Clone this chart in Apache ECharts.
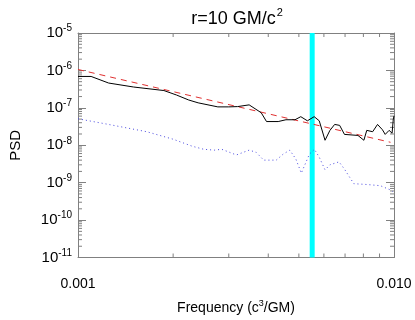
<!DOCTYPE html>
<html>
<head>
<meta charset="utf-8">
<script src="https://cdn.jsdelivr.net/npm/echarts@6/dist/echarts.min.js"></script>
<style>
  html, body { margin: 0; padding: 0; background: #fff; }
  #chart { width: 415px; height: 320px; }
</style>
</head>
<body>
<div id="chart"></div>
<script>
// black: measured PSD
var blackFreq = [0.001, 0.0011, 0.00125, 0.0015, 0.00187, 0.00205, 0.00224, 0.0024, 0.00277, 0.0030, 0.0032, 0.00348,
    0.0038, 0.00395, 0.0043, 0.00455, 0.00486, 0.00507, 0.00532, 0.00559, 0.0058, 0.00605, 0.00627, 0.00649,
    0.00673, 0.00697, 0.00769, 0.00803, 0.0082, 0.00856, 0.00887, 0.00919, 0.00938, 0.00965, 0.00986, 0.00995, 0.01];
var blackPsd = [6.9e-7, 6.9e-7, 4.6e-7, 3.6e-7, 2.9e-7, 2.2e-7, 1.62e-7, 1.36e-7, 1.06e-7, 1.06e-7, 1.08e-7, 1.2e-7,
    7.4e-8, 4.3e-8, 4.3e-8, 4.8e-8, 4.8e-8, 5.8e-8, 4.5e-8, 5.8e-8, 4.5e-8, 1.36e-8, 2.5e-8, 3.6e-8,
    3.4e-8, 1.95e-8, 1.83e-8, 1.36e-8, 2.5e-8, 2.3e-8, 3.6e-8, 2.6e-8, 1.95e-8, 2.5e-8, 2.1e-8, 5e-8, 6.1e-8];

// red dashed: power-law fit
var fitFreq = [0.001, 0.00975];
var fitPsd = [1.06e-6, 1.2e-8];

// blue dotted
var blueFreq = [0.001, 0.00125, 0.00165, 0.002, 0.0023, 0.0025, 0.0027, 0.00285, 0.00317, 0.00348, 0.00366, 0.00387,
    0.00424, 0.00446, 0.00468, 0.00489, 0.00509, 0.0054, 0.0056, 0.0058, 0.00605, 0.00627, 0.0067, 0.00697,
    0.00746, 0.00825, 0.00905, 0.0097, 0.0099];
var bluePsd = [5.1e-8, 3.6e-8, 2.3e-8, 1.45e-8, 9.4e-9, 7.8e-9, 7.4e-9, 7.8e-9, 5.5e-9, 7.4e-9, 6.5e-9, 4.0e-9,
    4.0e-9, 5.8e-9, 7.4e-9, 4.3e-9, 1.8e-9, 5.8e-9, 7.8e-9, 4.8e-9, 2.2e-9, 3.0e-9, 3.6e-9, 2.3e-9,
    9.4e-10, 8.9e-10, 8.3e-10, 6.5e-10, 5.8e-10];

// cyan band
var bandFreq = [0.00541, 0.00561];

var xDecades = [0.001];
var yDecades = [1e-11, 1e-10, 1e-9, 1e-8, 1e-7, 1e-6];
var minorMult = [2, 3, 4, 5, 6, 7, 8, 9];

function pairs(xs, ys) {
    return xs.map(function (x, i) { return [x, ys[i]]; });
}

// minor tick positions: [x, y, side] side 0=left,1=right,2=bottom,3=top
var minorTicks = [];
yDecades.forEach(function (d) {
    minorMult.forEach(function (m) {
        minorTicks.push([0.001, d * m, 0]);
        minorTicks.push([0.01, d * m, 1]);
    });
});
xDecades.forEach(function (d) {
    minorMult.forEach(function (m) {
        minorTicks.push([d * m, 1e-11, 2]);
        minorTicks.push([d * m, 1e-5, 3]);
    });
});

var axisColor = '#808080';
var font = 'Liberation Sans';

var chart = echarts.init(document.getElementById('chart'));

function axisBase(extra) {
    var a = {
        axisLine: { show: true, lineStyle: { color: axisColor, width: 1 } },
        axisTick: { show: true, inside: true, length: 8, lineStyle: { color: axisColor } },
        splitLine: { show: false },
        minorTick: { show: false }
    };
    for (var k in extra) a[k] = extra[k];
    return a;
}

chart.setOption({
    animation: false,
    backgroundColor: '#fff',
    title: {
        text: '{a|r=10 GM/c}{s|2}',
        left: 232,
        textAlign: 'center',
        top: 2,
        textStyle: {
            fontWeight: 'normal',
            rich: {
                a: { fontFamily: font, fontSize: 18, fontWeight: 'normal', color: '#000' },
                s: { fontFamily: font, fontSize: 11, fontWeight: 'normal', color: '#000', padding: [0, 0, 13, 1] }
            }
        }
    },
    grid: { left: 69, right: 21, top: 33, bottom: 58 },
    xAxis: [
        axisBase({
            type: 'log', logBase: 10, min: 0.001, max: 0.01, position: 'bottom',
            name: 'Frequency (c{s|3}/GM)',
            nameLocation: 'middle',
            nameGap: 42,
            nameTextStyle: {
                fontFamily: font, fontSize: 14, color: '#000',
                rich: { s: { fontFamily: font, fontSize: 9, color: '#000', padding: [0, 0, 8, 0] } }
            },
            axisLabel: {
                fontFamily: font, fontSize: 14, color: '#000', margin: 20,
                formatter: function (v) { return v.toFixed(3); }
            }
        }),
        axisBase({
            type: 'log', logBase: 10, min: 0.001, max: 0.01, position: 'top',
            axisLabel: { show: false }
        })
    ],
    yAxis: [
        axisBase({
            type: 'log', logBase: 10, min: 1e-11, max: 1e-5, position: 'left',
            name: 'PSD',
            nameLocation: 'middle',
            nameGap: 55,
            nameTextStyle: { fontFamily: font, fontSize: 15, color: '#000' },
            axisLabel: {
                margin: 6,
                formatter: function (v) {
                    return '{b|10}{s|' + Math.round(Math.log10(v)) + '}';
                },
                rich: {
                    b: { fontFamily: font, fontSize: 15, color: '#000' },
                    s: { fontFamily: font, fontSize: 10, color: '#000', padding: [0, 0, 9, 0] }
                }
            }
        }),
        axisBase({
            type: 'log', logBase: 10, min: 1e-11, max: 1e-5, position: 'right',
            axisLabel: { show: false }
        })
    ],
    series: [
        {
            type: 'custom',
            coordinateSystem: 'cartesian2d',
            silent: true,
            clip: false,
            data: minorTicks,
            renderItem: function (params, api) {
                var p = api.coord([api.value(0), api.value(1)]);
                var side = api.value(2);
                var len = 4;
                var dx = 0, dy = 0;
                if (side === 0) dx = len;
                else if (side === 1) dx = -len;
                else if (side === 2) dy = -len;
                else dy = len;
                return {
                    type: 'line',
                    shape: { x1: p[0], y1: p[1], x2: p[0] + dx, y2: p[1] + dy },
                    style: { stroke: axisColor, lineWidth: 1 }
                };
            }
        },
        {
            type: 'line',
            data: pairs(fitFreq, fitPsd),
            symbol: 'none',
            lineStyle: { color: '#e03030', width: 1, type: [6, 5] }
        },
        {
            type: 'line',
            data: pairs(blueFreq, bluePsd),
            symbol: 'none',
            lineStyle: { color: '#4848e0', width: 1, type: [1, 3] }
        },
        {
            type: 'line',
            data: pairs(blackFreq, blackPsd),
            symbol: 'none',
            lineStyle: { color: '#000', width: 1 }
        },
        {
            type: 'line',
            data: [],
            z: 10,
            markArea: {
                silent: true,
                itemStyle: { color: '#00ffff', opacity: 1 },
                data: [[{ xAxis: bandFreq[0] }, { xAxis: bandFreq[1] }]]
            }
        }
    ]
});
</script>
</body>
</html>
